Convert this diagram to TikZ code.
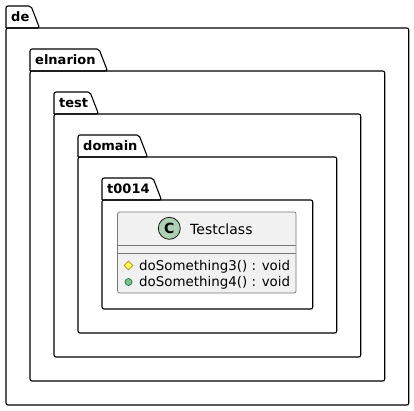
\documentclass[tikz,border=0pt]{standalone}
\usepackage{fontspec}
\setmainfont{DejaVu Sans}
\usetikzlibrary{positioning,shapes.geometric}
\definecolor{ClassFill}{RGB}{241,241,241}
\definecolor{ClassLine}{RGB}{120,120,120}
\definecolor{SpotGreen}{RGB}{173,209,178}
\definecolor{SpotLine}{RGB}{24,24,24}
\definecolor{ProtFill}{RGB}{255,255,68}
\definecolor{ProtLine}{RGB}{179,141,34}
\definecolor{PubFill}{RGB}{132,190,132}
\definecolor{PubLine}{RGB}{3,128,72}
\tikzset{
  pkgline/.style={draw=black,line width=1.1pt,rounded corners=2pt,line join=round},
  pkglabel/.style={font=\fontsize{13}{16}\selectfont\bfseries,anchor=base west,inner sep=0pt},
  classbox/.style={draw=ClassLine,fill=ClassFill,line width=0.7pt,rounded corners=2pt,
    minimum width=178.5pt,minimum height=81pt,inner sep=0pt},
  classline/.style={draw=ClassLine,line width=0.7pt},
  spot/.style={circle,draw=SpotLine,fill=SpotGreen,line width=0.8pt,minimum size=22pt,inner sep=0pt,
    font=\fontsize{14}{16}\selectfont\bfseries},
  member/.style={font=\fontsize{13.4}{16}\selectfont,anchor=base west,inner sep=0pt},
  prot/.style={diamond,draw=ProtLine,fill=ProtFill,line width=0.7pt,minimum size=9pt,inner sep=0pt},
  pub/.style={circle,draw=PubLine,fill=PubFill,line width=0.7pt,minimum size=7pt,inner sep=0pt}
}
\begin{document}
\begin{tikzpicture}[x=1pt,y=-1pt]
  \useasboundingbox (0,0) rectangle (414,411);
  % packages, outer to inner: left/tab top/tab right/name/right/bottom
  \foreach \l/\t/\m/\name/\r/\b in {6/6/31/de/408.7/405,
      30/49/99/elnarion/384.7/381,
      54/92/90/test/360.7/357,
      78/135/139/domain/336.7/333,
      102/178/153/t0014/312.7/309}{
    \draw[pkgline] (\l,\t+22) -- (\l,\t) -- (\m,\t) -- (\m+8.5,\t+22) -- (\l,\t+22);
    \draw[pkgline] (\l,\t+22) -- (\r,\t+22) -- (\r,\b) -- (\l,\b) -- cycle;
    \node[pkglabel] (\name) at (\l+5,\t+15.5) {\name};
  }
  % class
  \node[classbox] (testclass) at (206.8,252.5) {};
  \draw[classline] (testclass.west |- 0,245) -- (testclass.east |- 0,245);
  \draw[classline] (testclass.west |- 0,253) -- (testclass.east |- 0,253);
  \node[spot] (spotc) at (169.3,228.3) {C};
  \node[member,font=\fontsize{14}{16}\selectfont] (classname) at (190,234) {Testclass};
  \node[prot] (prot3) at (128.5,265.5) {};
  \node[member] (method3) at (139,270) {doSomething3() : void};
  \node[pub] (pub4) at (128.5,282) {};
  \node[member] (method4) at (139,286.5) {doSomething4() : void};
\end{tikzpicture}
\end{document}
